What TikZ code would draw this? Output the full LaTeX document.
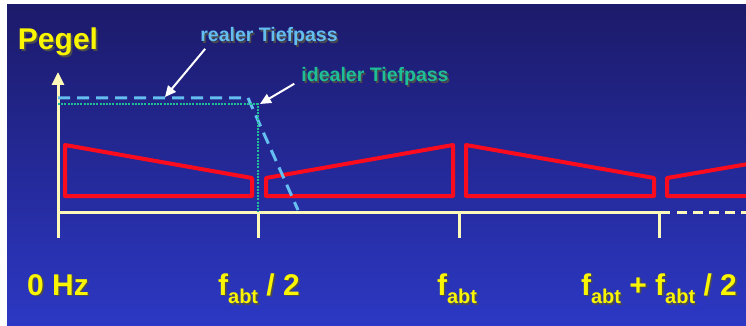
\documentclass[tikz,border=0pt]{standalone}
\usepackage{fontspec}
\setmainfont{Liberation Sans}
\usetikzlibrary{arrows.meta, positioning, calc}
\definecolor{bgtop}{RGB}{28,26,106}
\definecolor{bgbot}{RGB}{44,56,196}
\definecolor{axcol}{RGB}{255,250,185}
\definecolor{speccol}{RGB}{250,12,30}
\definecolor{realcol}{RGB}{100,190,240}
\definecolor{idealcol}{RGB}{30,190,150}
\definecolor{lblcol}{RGB}{250,245,0}
\newcommand{\shd}[1]{\makebox[0pt][l]{\hspace{1.6pt}\raisebox{-1.6pt}{\color{black!70}#1}}#1}
\newcommand{\fab}{f\raisebox{-0.28em}{\fontsize{20}{20}\selectfont abt}}
\tikzset{
  axis/.style={draw=axcol, line width=3pt},
  spec/.style={draw=speccol, line width=4pt, line join=round},
  realtp/.style={draw=realcol, line width=3pt, dash pattern=on 12pt off 7pt},
  idealtp/.style={draw=idealcol, line width=1.5pt, dash pattern=on 2pt off 1.2pt},
  ptr/.style={draw=white, line width=2pt, -{Triangle[length=11pt, width=10pt]}},
  biglbl/.style={text=lblcol, font=\fontsize{30}{36}\selectfont\bfseries, inner sep=0pt, anchor=base},
  tplbl/.style={font=\fontsize{19.5}{24}\selectfont\bfseries, inner sep=0pt, anchor=base},
}
\begin{document}
\begin{tikzpicture}[x=1pt, y=-1pt]
  % background
  \fill[white] (0,0) rectangle (746,326);
  \shade[top color=bgtop, bottom color=bgbot] (7,5) rectangle (746,326);
  \useasboundingbox (0,0) rectangle (746,326);

  % spectra
  \draw[spec] (65,145) -- (252,178) -- (252,196) -- (65,196) -- cycle;
  \draw[spec] (266,178) -- (453,145) -- (453,196) -- (266,196) -- cycle;
  \draw[spec] (466,145) -- (654,178) -- (654,196) -- (466,196) -- cycle;
  \draw[spec] (748,196) -- (667,196) -- (667,178) -- (748,164);

  % axes
  \coordinate (O) at (58,212);
  \coordinate (ybot) at (58,238);
  \coordinate (ytop) at (58,72);
  \coordinate (xend) at (670,212);
  \coordinate (xdash) at (677,212);
  \coordinate (xfar) at (746,212);
  \draw[axis, -{Triangle[length=13pt, width=12pt]}] (ybot) -- (ytop);
  \draw[axis] (O) -- (xend);
  \draw[axis, dash pattern=on 10pt off 6pt] (xdash) -- (xfar);
  \foreach \x/\name in {58/t0, 258/t1, 459/t2, 659/t3}
    \draw[axis] (\x,212) -- (\x,238) coordinate (\name);

  % filters
  \draw[realtp] (58,98) -- (248,98) -- (298,210);
  \draw[idealtp] (58,104) -- (258,104) -- (258,212);
  \coordinate (realtip) at (165,97);
  \coordinate (idealtip) at (260,104);

  % labels
  \node[biglbl] (pegel) at (58,50) {\shd{Pegel}};
  \node[tplbl, text=realcol] (reallbl) at (269,42) {\shd{realer Tiefpass}};
  \node[tplbl, text=idealcol] (ideallbl) at (375,82) {\shd{idealer Tiefpass}};
  \draw[ptr] ([xshift=5pt, yshift=-1pt]reallbl.south west) -- (realtip);
  \draw[ptr] ([xshift=-7pt, yshift=-6pt]ideallbl.west) -- (idealtip);

  \node[biglbl] (l0) at (58,295) {\shd{0 Hz}};
  \node[biglbl] (l1) at (259,295) {\shd{\fab{} / 2}};
  \node[biglbl] (l2) at (457,295) {\shd{\fab}};
  \node[biglbl] (l3) at (659,295) {\shd{\fab{} + \fab{} / 2}};
\end{tikzpicture}
\end{document}
